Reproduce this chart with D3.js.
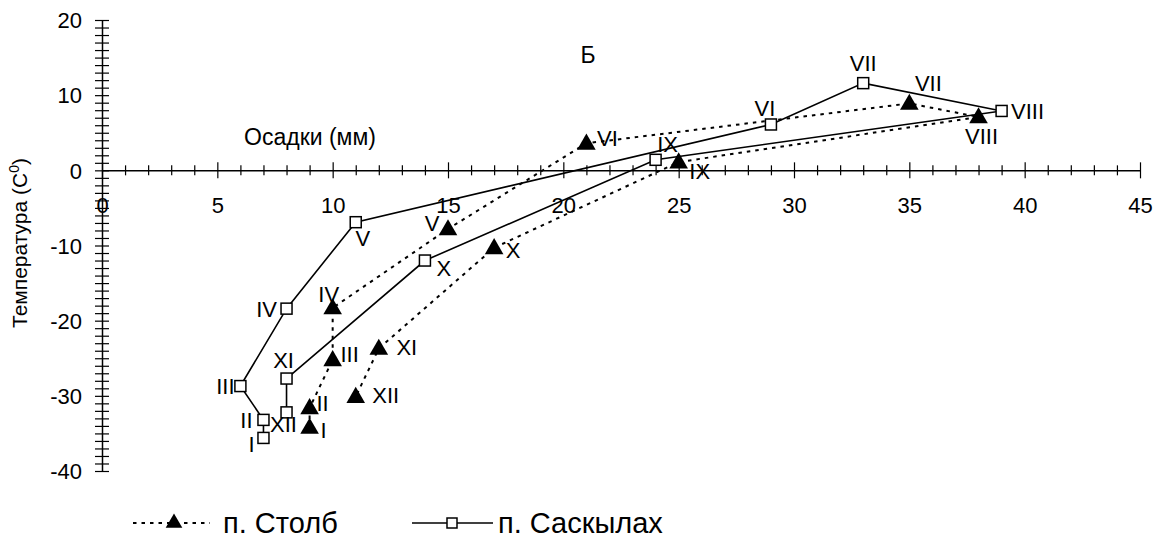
<!DOCTYPE html>
<html>
<head>
<meta charset="utf-8">
<script src="https://cdn.jsdelivr.net/npm/d3@7"></script>
<style>
  html, body { margin: 0; padding: 0; background: #fff; }
  svg { display: block; font-family: "Liberation Sans", Arial, sans-serif; }
</style>
</head>
<body>
<svg id="chart" width="1167" height="540"></svg>
<script>
// Months (Roman numerals) used as point labels
const months = ["I", "II", "III", "IV", "V", "VI", "VII", "VIII", "IX", "X", "XI", "XII"];

// п. Столб: monthly precipitation (mm) and mean temperature (°C)
const stolbPrecip = [9, 9, 10, 10, 15, 21, 35, 38, 25, 17, 12, 11];
const stolbTemp   = [-34.2, -31.6, -25.2, -18.3, -7.8, 3.6, 8.9, 7.1, 1.1, -10.3, -23.7, -30.1];

// п. Саскылах: monthly precipitation (mm) and mean temperature (°C)
const saskPrecip = [7, 7, 6, 8, 11, 29, 33, 39, 24, 14, 8, 8];
const saskTemp   = [-35.6, -33.2, -28.7, -18.4, -6.9, 6.1, 11.6, 7.9, 1.4, -12, -27.7, -32.2];

// Axis tick labels
const xTickLabels = [0, 5, 10, 15, 20, 25, 30, 35, 40, 45];
const yTickLabels = [-40, -30, -20, -10, 0, 10, 20];

// Month label offsets (px) relative to each marker
const stolbLabelOffset = [
  [14, 3], [13, -5], [17, -6], [-4, -14], [-16, -6], [21, -5],
  [19, -20], [3, 19], [21, 9], [19, 2], [28, -1], [30, -2]
];
const saskLabelOffset = [
  [-12, 6], [-17, 0], [-15, 0], [-20, 0], [7, 16], [-6, -16],
  [0, -20], [26, 0], [12, -16], [19, 8], [-3, -18], [-3, 12]
];

const svg = d3.select("#chart");

const x = d3.scaleLinear().domain([0, 45]).range([102, 1140]);
const y = d3.scaleLinear().domain([-40, 20]).range([471, 20]);

const tickFont = "22px";
const labelFont = "22px";

// ---- X axis along T = 0 ----
const xAxis = d3.axisBottom(x)
  .tickValues(d3.range(0, 46, 1))
  .tickSize(0)
  .tickFormat(d => xTickLabels.includes(d) ? String(d) : "");

const gx = svg.append("g")
  .attr("transform", `translate(0,${y(0)})`)
  .call(xAxis);
gx.select(".domain").attr("stroke", "#000").attr("stroke-width", 1.5);
gx.selectAll(".tick line")
  .attr("stroke", "#000")
  .attr("stroke-width", 1.2)
  .attr("y1", d => d % 5 === 0 ? -8 : -5)
  .attr("y2", d => d % 5 === 0 ? 8 : 5);
gx.selectAll(".tick text")
  .attr("y", 43)
  .attr("dy", null)
  .attr("fill", "#000")
  .style("font-size", tickFont)
  .style("font-family", "'Liberation Sans', Arial, sans-serif");

// ---- Y axis at P = 0 ----
const yAxis = d3.axisLeft(y)
  .tickValues(d3.range(-40, 21, 1))
  .tickSize(0)
  .tickFormat(d => yTickLabels.includes(d) ? String(d) : "");

const gy = svg.append("g")
  .attr("transform", `translate(${x(0)},0)`)
  .call(yAxis);
gy.select(".domain").attr("stroke", "#000").attr("stroke-width", 1.5);
gy.selectAll(".tick line")
  .attr("stroke", "#000")
  .attr("stroke-width", 1.2)
  .attr("x1", -7)
  .attr("x2", 7);
gy.selectAll(".tick text")
  .attr("x", -20)
  .attr("dy", "0.35em")
  .attr("fill", "#000")
  .style("font-size", tickFont)
  .style("font-family", "'Liberation Sans', Arial, sans-serif");

// ---- Titles ----
svg.append("text")
  .attr("x", 588).attr("y", 63)
  .attr("text-anchor", "middle")
  .style("font-size", "23px")
  .text("Б");

svg.append("text")
  .attr("x", 310).attr("y", 145)
  .attr("text-anchor", "middle")
  .style("font-size", "23px")
  .text("Осадки (мм)");

const yTitle = svg.append("text")
  .attr("transform", "translate(27,243) rotate(-90)")
  .attr("text-anchor", "middle")
  .style("font-size", "21px");
yTitle.append("tspan").text("Температура (C");
yTitle.append("tspan").attr("dy", -8).style("font-size", "14px").text("0");
yTitle.append("tspan").attr("dy", 8).text(")");

// ---- Series ----
const stolb = months.map((m, i) => ({ m, p: stolbPrecip[i], t: stolbTemp[i], off: stolbLabelOffset[i] }));
const sask  = months.map((m, i) => ({ m, p: saskPrecip[i], t: saskTemp[i], off: saskLabelOffset[i] }));

const line = d3.line().x(d => x(d.p)).y(d => y(d.t));

svg.append("path")
  .datum(sask)
  .attr("d", line)
  .attr("fill", "none")
  .attr("stroke", "#000")
  .attr("stroke-width", 1.6);

svg.append("path")
  .datum(stolb)
  .attr("d", line)
  .attr("fill", "none")
  .attr("stroke", "#000")
  .attr("stroke-width", 2)
  .attr("stroke-dasharray", "3.5,5");

const triangle = d3.symbol().type(d3.symbolTriangle).size(150);

svg.append("g").selectAll("path")
  .data(stolb)
  .join("path")
  .attr("d", triangle)
  .attr("transform", d => `translate(${x(d.p)},${y(d.t) + 1})`)
  .attr("fill", "#000");

svg.append("g").selectAll("rect")
  .data(sask)
  .join("rect")
  .attr("x", d => x(d.p) - 5.5)
  .attr("y", d => y(d.t) - 5.5)
  .attr("width", 11)
  .attr("height", 11)
  .attr("fill", "#fff")
  .attr("stroke", "#000")
  .attr("stroke-width", 1.5);

// Month labels
function monthLabels(data) {
  svg.append("g").selectAll("text")
    .data(data)
    .join("text")
    .attr("x", d => x(d.p) + d.off[0])
    .attr("y", d => y(d.t) + d.off[1])
    .attr("dy", "0.36em")
    .attr("text-anchor", "middle")
    .style("font-size", labelFont)
    .text(d => d.m);
}
monthLabels(stolb);
monthLabels(sask);

// ---- Legend ----
const legY = 523;
const leg = svg.append("g");
leg.append("line")
  .attr("x1", 133).attr("x2", 210).attr("y1", legY).attr("y2", legY)
  .attr("stroke", "#000").attr("stroke-width", 2).attr("stroke-dasharray", "3.5,5");
leg.append("path")
  .attr("d", d3.symbol().type(d3.symbolTriangle).size(120))
  .attr("transform", `translate(174,${legY})`)
  .attr("fill", "#000");
leg.append("text")
  .attr("x", 223).attr("y", legY).attr("dy", "0.36em")
  .style("font-size", "29px")
  .text("п. Столб");

leg.append("line")
  .attr("x1", 412).attr("x2", 493).attr("y1", legY).attr("y2", legY)
  .attr("stroke", "#000").attr("stroke-width", 1.6);
leg.append("rect")
  .attr("x", 447).attr("y", legY - 5).attr("width", 10).attr("height", 10)
  .attr("fill", "#fff").attr("stroke", "#000").attr("stroke-width", 1.5);
leg.append("text")
  .attr("x", 498).attr("y", legY).attr("dy", "0.36em")
  .style("font-size", "29px")
  .text("п. Саскылах");
</script>
</body>
</html>
